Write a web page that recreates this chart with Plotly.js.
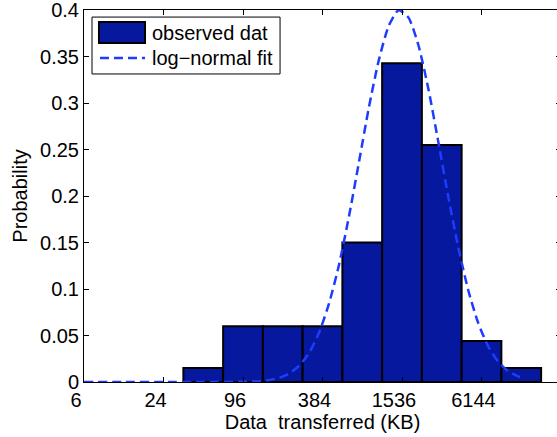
<!DOCTYPE html>
<html>
<head>
<meta charset="utf-8">
<script src="https://cdn.plot.ly/plotly-3.0.1.min.js"></script>
<style>
html, body { margin:0; padding:0; overflow:hidden; background:#fff; }
#chart { width:600px; height:437px; }
</style>
</head>
<body>
<div id="chart"></div>
<script>
// Histogram bins (bin centres, KB) and observed probabilities
const binCentersKB = [48, 96, 192, 384, 768, 1536, 3072, 6144, 12288];
const observedProb = [0.015, 0.06, 0.06, 0.06, 0.15, 0.343, 0.255, 0.044, 0.015];

// Log-normal fit curve
const fitKB = [6, 12, 24, 48, 96, 128, 152.2, 181, 215.3, 256, 304.4, 362, 430.5, 512, 608.9, 724.1, 861.1,
  1024, 1217.8, 1448.2, 1722.2, 2048, 2435.5, 2896.3, 3444.3, 4096, 4871, 5792.6, 6888.6, 8192, 9741.9, 11585, 12288];
const fitProb = [0, 0, 0, 0, 0.0002, 0.0009, 0.0021, 0.0046, 0.0092, 0.0176, 0.0315, 0.0532, 0.0845, 0.126, 0.178, 0.236, 0.295,
  0.346, 0.383, 0.400, 0.392, 0.362, 0.315, 0.258, 0.199, 0.145, 0.099, 0.0637, 0.0386, 0.0221, 0.0119, 0.0060, 0.0047];

// Axis ticks
const xTickKB = [6, 24, 96, 384, 1536, 6144];
const xTickText = ['6', '24', '96', '384', '1536', '6144'];
const yTicks = [0, 0.05, 0.1, 0.15, 0.2, 0.25, 0.3, 0.35, 0.4];

const legendNames = ['observed dat', 'log\u2212normal fit'];

const lg = v => Math.log2(v);
const FONT = 'Liberation Sans, Arial, Helvetica, sans-serif';
const barColor = '#06189E';
const lineColor = '#1E3CFF';

const traces = [
  {
    type: 'bar',
    name: legendNames[0],
    x: binCentersKB.map(lg),
    y: observedProb,
    width: 1,
    marker: { color: barColor, line: { color: '#000', width: 2 } },
    showlegend: false
  },
  {
    type: 'scatter',
    mode: 'lines',
    name: legendNames[1],
    x: fitKB.map(lg),
    y: fitProb,
    line: { color: lineColor, width: 2.5, dash: '9px,5px', shape: 'spline', smoothing: 0.6 },
    showlegend: false,
    cliponaxis: false
  }
];

// legend box (paper coords)
const shapes = [
  { type: 'rect', xref: 'paper', yref: 'paper', x0: 0.0168, x1: 0.411, y0: 0.828, y1: 0.981,
    line: { color: '#000', width: 1 }, fillcolor: '#fff', layer: 'above' },
  { type: 'rect', xref: 'paper', yref: 'paper', x0: 0.0314, x1: 0.1279, y0: 0.9113, y1: 0.9677,
    line: { color: '#000', width: 2 }, fillcolor: barColor, layer: 'above' },
  { type: 'line', xref: 'paper', yref: 'paper', x0: 0.0335, x1: 0.1279, y0: 0.871, y1: 0.871,
    line: { color: lineColor, width: 2.5, dash: '9px,5px' }, layer: 'above' }
];
const annotations = [
  { xref: 'paper', yref: 'paper', x: 0.138, y: 0.938, xanchor: 'left', yanchor: 'middle', showarrow: false,
    text: legendNames[0], font: { family: FONT, size: 20, color: '#000' } },
  { xref: 'paper', yref: 'paper', x: 0.138, y: 0.871, xanchor: 'left', yanchor: 'middle', showarrow: false,
    text: legendNames[1], font: { family: FONT, size: 20, color: '#000' } }
];

const layout = {
  width: 600, height: 437,
  margin: { l: 84, r: 39, t: 10, b: 55 },
  paper_bgcolor: '#fff', plot_bgcolor: '#fff',
  font: { family: FONT, size: 20, color: '#000' },
  bargap: 0,
  xaxis: {
    range: [lg(6), lg(24576)],
    tickmode: 'array', tickvals: xTickKB.map(lg), ticktext: xTickText,
    ticks: 'inside', ticklen: 5, tickcolor: '#000', tickwidth: 1,
    showline: true, linecolor: '#000', linewidth: 1, mirror: 'ticks',
    showgrid: false, zeroline: false,
    ticklabelshift: -8,
    ticklabeloverflow: 'allow',
    tickfont: { family: FONT, size: 20, color: '#000' },
    title: { text: 'Data\u00a0 transferred (KB)', font: { family: FONT, size: 20, color: '#000' }, standoff: 3 }
  },
  yaxis: {
    range: [0, 0.4002],
    tickmode: 'array', tickvals: yTicks, ticktext: yTicks.map(v => String(v)),
    ticks: 'inside', ticklen: 5, tickcolor: '#000', tickwidth: 1,
    showline: true, linecolor: '#000', linewidth: 1, mirror: 'ticks',
    showgrid: false, zeroline: false,
    ticklabeloverflow: 'allow',
    tickfont: { family: FONT, size: 20, color: '#000' },
    title: { text: 'Probability', font: { family: FONT, size: 20, color: '#000' }, standoff: 7 }
  },
  shapes: shapes,
  annotations: annotations,
  showlegend: false
};

Plotly.newPlot('chart', traces, layout, { displayModeBar: false, staticPlot: true });
</script>
</body>
</html>
